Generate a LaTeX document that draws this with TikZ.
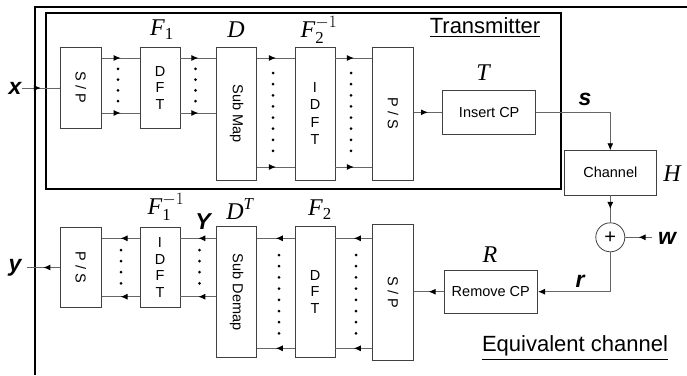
\documentclass[tikz,border=0pt]{standalone}
\usepackage{fontspec}
\usepackage{amsmath}
\setmainfont{Liberation Sans}
\newfontfamily\tms{Liberation Serif}
\usetikzlibrary{arrows.meta,decorations.markings}
\begin{document}
\begin{tikzpicture}[x=1pt,y=-1pt,
 blk/.style={draw=black!75, line width=0.8pt, fill=white, inner sep=0pt, font=\fontsize{14.5}{16.5}\selectfont, align=center},
 conn/.style={draw=black!60, line width=0.9pt},
 midarr/.style={conn, postaction={decorate}, decoration={markings, mark=at position 0.5 with {\arrow{Latex[length=7pt,width=6pt,color=black]}}}},
 tipar/.style={conn, -{Latex[length=7pt,width=6pt,color=black]}},
 sym/.style={font=\fontsize{23}{25}\selectfont\bfseries\itshape, inner sep=0pt},
 mlab/.style={font=\fontsize{24}{26}\selectfont, inner sep=0pt},
 ulab/.style={font=\fontsize{22}{24}\selectfont, inner sep=0pt},
 frm/.style={draw=black, line width=1.1pt},
 dotc/.style={fill=black}
]
\useasboundingbox[fill=white] (0,0) rectangle (687,375);
% frames
\draw[frm] (35,375) -- (35,7) -- (687,7);
\draw[frm] (46,13) rectangle (561,189);
% upper blocks
\node[blk, minimum width=41, minimum height=81] (sp1) at (80.7,87.7) {\rotatebox{-90}{S / P}};
\node[blk, minimum width=40, minimum height=81] (dft1) at (160,87.7) {D\\F\\T};
\node[blk, minimum width=40, minimum height=133] (submap) at (236.7,113.7) {\rotatebox{-90}{Sub Map}};
\node[blk, minimum width=40, minimum height=133, font=\fontsize{14.5}{17.5}\selectfont] (idft1) at (315,113.7) {I\\D\\F\\T};
\node[blk, minimum width=40.6, minimum height=133] (ps1) at (393,113.7) {\rotatebox{-90}{P / S}};
\node[blk, minimum width=93, minimum height=43.3] (icp) at (489.2,112.3) {Insert CP};
\node[blk, minimum width=92.7, minimum height=44.3] (chan) at (610.3,172.8) {Channel};
\node[draw=black!75, line width=0.8pt, circle, minimum size=29, inner sep=0pt, font=\fontsize{20}{22}\selectfont] (plus) at (610.3,237.3) {+};
% lower blocks
\node[blk, minimum width=93.7, minimum height=43.3] (rcp) at (490.8,291.7) {Remove CP};
\node[blk, minimum width=40.6, minimum height=135.7] (sp2) at (393,292.2) {\rotatebox{-90}{S / P}};
\node[blk, minimum width=40, minimum height=130.6] (dft2) at (315,292) {D\\F\\T};
\node[blk, minimum width=40, minimum height=130.6] (subdemap) at (236.7,292) {\rotatebox{-90}{Sub Demap}};
\node[blk, minimum width=40, minimum height=80.4] (idft2) at (160,267.5) {I\\D\\F\\T};
\node[blk, minimum width=41, minimum height=80.4] (ps2) at (80.7,267.5) {\rotatebox{-90}{P / S}};
% labels
\node[sym] (xlab) at (15,88) {x};
\node[sym] (ylab) at (15,268) {y};
\node[sym] (slab) at (585,99) {s};
\node[sym] (wlab) at (667,238) {w};
\node[sym] (rlab) at (580,281) {r};
\node[sym] (Ylab) at (203,222) {Y};
\node[mlab] (f1) at (162,30) {$\text{\tms\itshape F}_{\text{\tms 1}}$};
\node[mlab] (dl) at (236,30) {\tms\itshape D};
\node[mlab] (f2i) at (319,30) {$\text{\tms\itshape F}_{\text{\tms 2}}^{-1}$};
\node[mlab] (tl) at (483,73) {\tms\itshape T};
\node[mlab] (hl) at (672,174) {\tms\itshape H};
\node[mlab] (rl) at (490,255) {\tms\itshape R};
\node[mlab] (f1i) at (166,207) {$\text{\tms\itshape F}_{\text{\tms 1}}^{-1}$};
\node[mlab] (dt) at (240,209) {$\text{\tms\itshape D}^{\text{\tms\itshape T}}$};
\node[mlab] (f2) at (320,210) {$\text{\tms\itshape F}_{\text{\tms 2}}$};
\node[ulab] (tx) at (485,28) {\underline{Transmitter}};
\node[ulab] (eq) at (575,348) {\underline{Equivalent channel}};
% upper connectors
\draw[midarr] (xlab.east) -- (xlab.east -| 60,0) coordinate (xin);
\draw[conn] (xin) -- (sp1.west);
\foreach \y in {58,113} {
  \draw[midarr] (sp1.east |- 0,\y) -- (dft1.west |- 0,\y);
  \draw[midarr] (dft1.east |- 0,\y) -- (submap.west |- 0,\y);
}
\foreach \y in {58,167} {
  \draw[midarr] (submap.east |- 0,\y) -- (idft1.west |- 0,\y);
  \draw[midarr] (idft1.east |- 0,\y) -- (ps1.west |- 0,\y);
}
\foreach \k in {1,...,4} {
  \fill[dotc] (118,58+\k*10.8) circle (1.5);
  \fill[dotc] (195.5,58+\k*10.8) circle (1.5);
}
\foreach \k in {0,...,7} {
  \fill[dotc] (273,73+\k*11.14) circle (1.5);
  \fill[dotc] (351,73+\k*11.14) circle (1.5);
}
\draw[midarr] (ps1.east |- icp.west) -- (icp.west);
\draw[tipar] (icp.east) -| (chan.north);
\draw[midarr] (chan.south) -- (plus.north);
\coordinate (win) at (652,237.3);
\draw[midarr] (win) -- (plus.east);
\draw[tipar] (plus.south) |- (rcp.east);
% lower connectors
\draw[midarr] (rcp.west) -- (sp2.east |- rcp.west);
\foreach \y in {238.3,348.3} {
  \draw[midarr] (sp2.west |- 0,\y) -- (dft2.east |- 0,\y);
  \draw[midarr] (dft2.west |- 0,\y) -- (subdemap.east |- 0,\y);
}
\foreach \y in {238.3,296.7} {
  \draw[midarr] (subdemap.west |- 0,\y) -- (idft2.east |- 0,\y);
  \draw[midarr] (idft2.west |- 0,\y) -- (ps2.east |- 0,\y);
}
\foreach \k in {0,...,7} {
  \fill[dotc] (356,255+\k*11.2) circle (1.5);
  \fill[dotc] (279,255+\k*11.2) circle (1.5);
}
\foreach \k in {0,...,3} {
  \fill[dotc] (199.5,250+\k*11.1) circle (1.5);
  \fill[dotc] (121,250+\k*11.1) circle (1.5);
}
\coordinate (yout) at (27,267.5);
\draw[midarr] (ps2.west) -- (yout);
\end{tikzpicture}
\end{document}
